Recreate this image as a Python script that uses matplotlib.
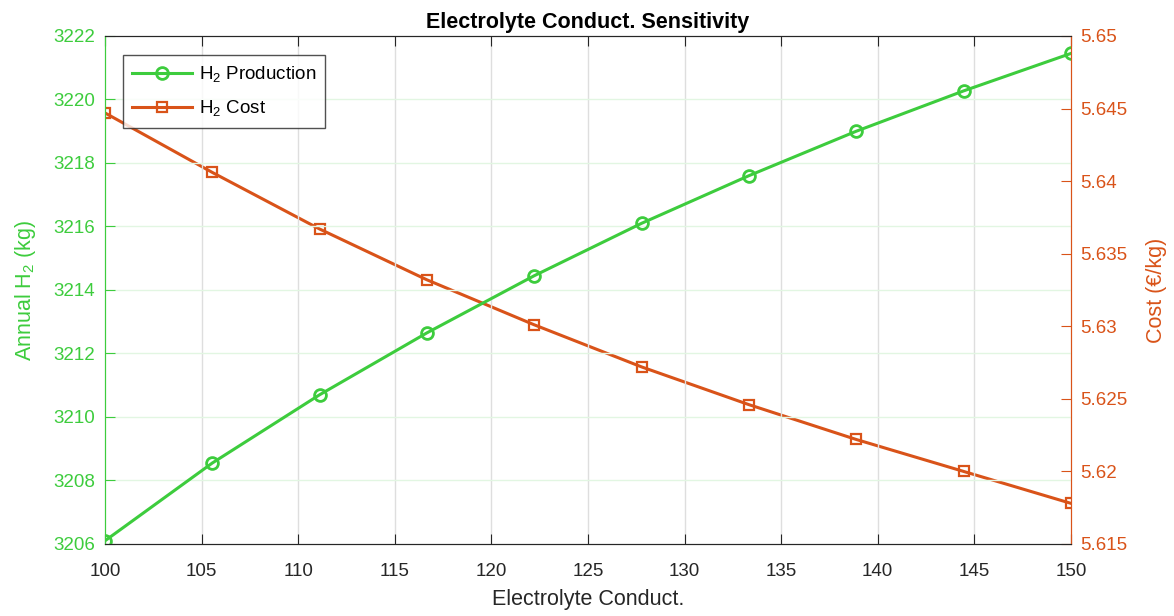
import numpy as np
import matplotlib
matplotlib.use("Agg")
import matplotlib.pyplot as plt

plt.rcParams['font.family'] = ['Liberation Sans', 'DejaVu Sans']
plt.rcParams['mathtext.fontset'] = 'custom'
plt.rcParams['mathtext.rm'] = 'Liberation Sans'

# Electrolyte conductivity sweep
conductivity = np.linspace(100, 150, 10)
h2_production = [3206.1, 3208.55, 3210.7, 3212.65, 3214.45, 3216.1, 3217.6, 3219.0, 3220.27, 3221.45]
h2_cost = [5.6447, 5.6406, 5.6367, 5.6332, 5.6301, 5.6272, 5.6246, 5.6222, 5.6200, 5.6178]

x_ticks = list(range(100, 151, 5))
left_ticks = list(range(3206, 3223, 2))
right_ticks = [5.615, 5.62, 5.625, 5.63, 5.635, 5.64, 5.645, 5.65]
right_labels = ['5.615', '5.62', '5.625', '5.63', '5.635', '5.64', '5.645', '5.65']

green = '#3dcc3d'
orange = '#d95319'
dark = '#262626'

fig = plt.figure(figsize=(11.74, 6.16), dpi=100)
ax = fig.add_axes([0.0894, 0.1169, 0.8228, 0.8247])
ax2 = ax.twinx()

l1, = ax.plot(conductivity, h2_production, '-o', color=green, lw=2.2,
              ms=8.5, mfc='none', mew=2.0, label='H$_2$ Production')
l2, = ax2.plot(conductivity, h2_cost, '-s', color=orange, lw=2.2,
               ms=7, mfc='none', mew=1.6, label='H$_2$ Cost')

ax.set_xlim(100, 150)
ax.set_ylim(3206, 3222)
ax2.set_ylim(5.615, 5.65)
ax.set_xticks(x_ticks)
ax.set_yticks(left_ticks)
ax2.set_yticks(right_ticks)
ax2.set_yticklabels(right_labels)

# grid: gray verticals, faint green horizontals
ax.grid(False)
for xv in x_ticks[1:-1]:
    ax.axvline(xv, color='#dedede', lw=1.0, zorder=0)
for yv in left_ticks[1:-1]:
    ax.axhline(yv, color='#e2f6e2', lw=1.0, zorder=0)

ax.tick_params(axis='x', direction='in', top=True, colors=dark, labelsize=13.5,
               length=7, pad=14)
ax.tick_params(axis='y', direction='in', colors=green, labelsize=13.5, length=7, pad=7)
ax2.tick_params(axis='y', direction='in', colors=orange, labelsize=13.5, length=7, pad=7)

for a in (ax, ax2):
    a.spines['top'].set_color(dark)
    a.spines['bottom'].set_color(dark)
    a.spines['left'].set_color(green)
    a.spines['right'].set_color(orange)

ax.set_xlabel('Electrolyte Conduct.', fontsize=15.5, color=dark, labelpad=6)
ax.set_ylabel('Annual H$_2$ (kg)', fontsize=15.5, color=green, labelpad=11)
ax2.set_ylabel('Cost (€/kg)', fontsize=15.5, color=orange, labelpad=13)
ax.set_title('Electrolyte Conduct. Sensitivity', fontsize=15.5, fontweight='bold', pad=6)

leg = ax.legend(handles=[l1, l2], loc='upper left', bbox_to_anchor=(0.0186, 0.9626),
                borderaxespad=0, fontsize=13.5, frameon=True, fancybox=False,
                edgecolor=dark, handlelength=3.2, handletextpad=0.35,
                borderpad=0.5, labelspacing=0.75)
leg.get_frame().set_linewidth(1.0)
ax.set_zorder(ax2.get_zorder() + 1)
ax.patch.set_visible(False)

fig.savefig('out.png', dpi=100)
